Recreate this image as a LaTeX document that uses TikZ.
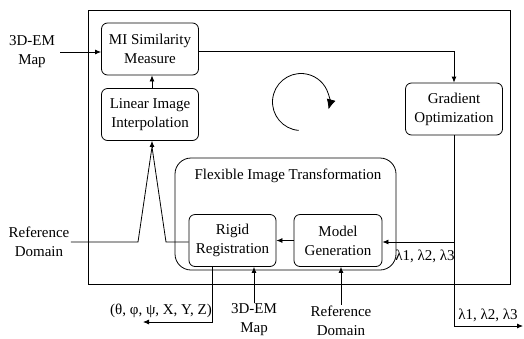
\documentclass[tikz,border=0pt]{standalone}
\usepackage{fontspec}
\setmainfont{Liberation Serif}
\usetikzlibrary{arrows.meta,positioning,calc}

\begin{document}
\begin{tikzpicture}[x=1pt,y=-1pt,
  font=\fontsize{15}{19}\selectfont,
  line width=0.8pt,
  blk/.style={rectangle,draw,rounded corners=6pt,align=center,minimum width=97pt,minimum height=52pt,inner sep=1pt},
  lbl/.style={align=center,inner sep=1pt},
  edge/.style={-{Latex[length=6pt,width=5pt]}}]
\useasboundingbox (0,0) rectangle (524,338);
\draw (88,10) rectangle (510,284);
\node[blk] (mi) at (150,49) {MI Similarity\\Measure};
\node[blk] (lin) at (150,114.5) {Linear Image\\Interpolation};
\node[blk] (grad) at (454,109) {Gradient\\Optimization};
\node[draw,rounded corners=16pt,minimum width=221pt,minimum height=112pt] (flex) at (285.5,214) {};
\node[lbl] (flextitle) at (288,176) {Flexible Image Transformation};
\node[blk,minimum width=87pt] (rr) at (232.5,240.5) {Rigid\\Registration};
\node[blk,minimum width=88pt] (mg) at (338,240.5) {Model\\Generation};
% inputs and outputs
\node[lbl,inner sep=5pt] (emtop) at (32,52) {3D-EM\\Map};
\node[lbl] (refl) at (39,241.5) {Reference\\Domain};
\node[lbl] (embot) at (254,320) {3D-EM\\Map};
\node[lbl] (refb) at (341,321) {Reference\\Domain};
\node[lbl] (angl) at (161,311) {(θ, φ, ψ, X, Y, Z)};
\node[lbl] (lamin) at (425,256) {λ1, λ2, λ3};
\node[lbl] (lamoutl) at (488,315) {λ1, λ2, λ3};
\coordinate (angout) at (143,322);
\coordinate (lamout) at (523,326);
\coordinate (peak) at (152,147);
\coordinate (footl) at (138,242);
\coordinate (footr) at (166,242);
% loop symbol
\draw[-{Latex[length=10pt,width=9pt]}] (301,102) ++(95:28.5) arc[start angle=95,end angle=375,radius=28.5];
% connectors
\draw[edge] (emtop.east) -- (emtop.east -| mi.west);
\draw[edge] (lin.north -| peak) -- (mi.south -| peak);
\draw[edge] ([yshift=-2.5pt]mi.east) -| (grad.north);
\draw[edge] (grad.south) |- ([yshift=-1.5pt]mg.east);
\draw[edge] (grad.south) |- (lamout);
\draw[edge] (mg.west) -- (rr.west -| rr.east);
\draw (refl.east |- footl) -- (footl) -- (peak) -- (footr) -- (rr.west |- footr);
\draw[edge] (peak) -- (lin.south -| peak);
\draw[edge] ([xshift=-20.5pt]rr.south) |- (angout);
\draw[edge] (embot.north) -- (embot.north |- rr.south);
\draw[edge] (refb.north) -- (refb.north |- mg.south);
\end{tikzpicture}
\end{document}
